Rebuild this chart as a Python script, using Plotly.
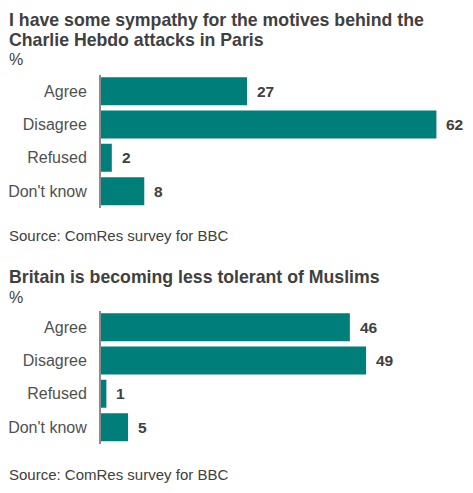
import plotly.graph_objects as go
from plotly.subplots import make_subplots

categories = ["Agree", "Disagree", "Refused", "Don't know"]
sympathy_values = [27, 62, 2, 8]
tolerance_values = [46, 49, 1, 5]

title_top = ["I have some sympathy for the motives behind the", "Charlie Hebdo attacks in Paris"]
title_bottom = "Britain is becoming less tolerant of Muslims"
source_text = "Source: ComRes survey for BBC"

W, H = 473, 493
LEFT = 101
bar_colour = "#007f7a"
dark = "#404040"
font_name = "Liberation Sans, Arial, sans-serif"

def py(px):
    # pixel from top -> paper fraction
    return 1 - px / H

def px_x(px):
    # pixel from left -> paper fraction (paper starts at the plot area)
    return (px - LEFT) / (W - LEFT)

fig = make_subplots(rows=2, cols=1)

for row, vals in [(1, sympathy_values), (2, tolerance_values)]:
    fig.add_trace(go.Bar(x=vals, y=categories, orientation="h",
                         marker=dict(color=bar_colour, line=dict(width=0)),
                         width=0.84, hoverinfo="skip", showlegend=False),
                  row=row, col=1)
    xref = "x" if row == 1 else "x2"
    yref = "y" if row == 1 else "y2"
    for c, v in zip(categories, vals):
        fig.add_annotation(x=v, y=c, xref=xref, yref=yref, text="<b>%d</b>" % v,
                           showarrow=False, xanchor="left", xshift=8,
                           font=dict(family=font_name, size=15.5, color=dark))

xrange = [0, (W - LEFT) / 5.41]
for ax in ["xaxis", "xaxis2"]:
    fig.layout[ax].update(range=xrange, domain=[0, 1], visible=False, fixedrange=True)

ydomains = {"yaxis": [py(207.8), py(74.5)], "yaxis2": [py(443.8), py(310.5)]}
for ax, dom in ydomains.items():
    fig.layout[ax].update(domain=dom, autorange="reversed", showline=True,
                          linecolor="#8c8c8c", linewidth=2, showgrid=False,
                          zeroline=False, ticks="", ticklabelstandoff=9,
                          automargin=False, fixedrange=True,
                          tickfont=dict(family=font_name, size=16, color="#505050"))

texts = [
    (title_top[0], 7.5, 8.5, 17.7, True),
    (title_top[1], 7.5, 28.5, 17.7, True),
    ("%", 8, 50, 16, False),
    (source_text, 8, 226, 15, False),
    (title_bottom, 7.5, 266, 17.7, True),
    ("%", 8, 288, 16, False),
    (source_text, 8, 465, 15, False),
]
for t, x, y, size, bold in texts:
    fig.add_annotation(text="<b>%s</b>" % t if bold else t, x=px_x(x), y=py(y),
                       xref="paper", yref="paper", xanchor="left", yanchor="top",
                       align="left", showarrow=False, borderpad=0,
                       font=dict(family=font_name, size=size, color=dark))

fig.update_layout(width=W, height=H, margin=dict(l=LEFT, r=0, t=0, b=0),
                  plot_bgcolor="white", paper_bgcolor="white", bargap=0.16,
                  font=dict(family=font_name))

fig.write_html("out.html", config={"displayModeBar": False},
               post_script="document.body.style.margin='0';")
